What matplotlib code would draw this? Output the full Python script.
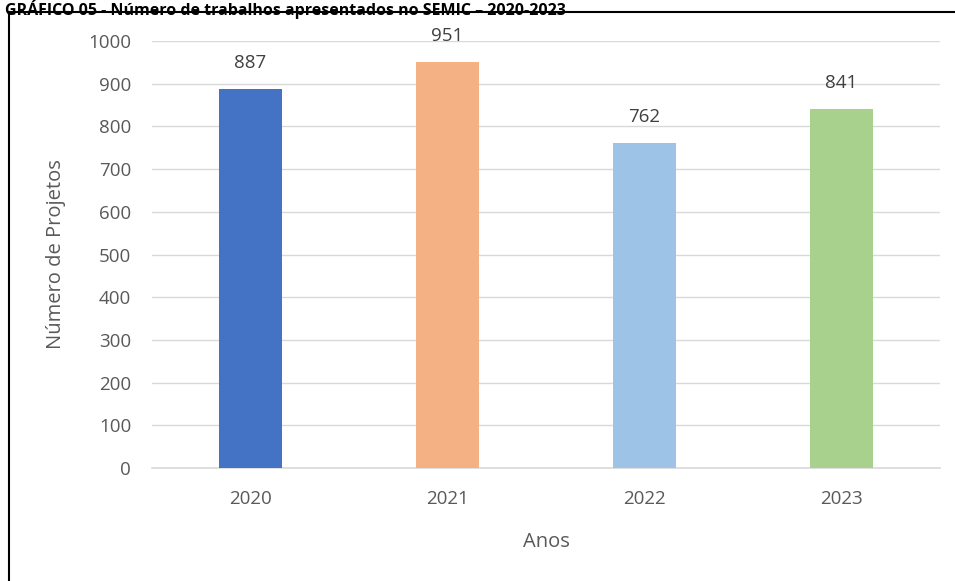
import matplotlib.pyplot as plt
from matplotlib.patches import Rectangle

anos = ['2020', '2021', '2022', '2023']
projetos = [887, 951, 762, 841]
cores = ['#4472C4', '#F4B183', '#9DC3E6', '#A9D18E']
titulo = 'GRÁFICO 05 - Número de trabalhos apresentados no SEMIC – 2020-2023'

plt.rcParams['font.family'] = ['Open Sans', 'DejaVu Sans']
cinza = '#595959'

fig = plt.figure(figsize=(9.55, 5.81), dpi=100)
ax = fig.add_axes([152 / 955, 1 - 468 / 581, 788 / 955, 427 / 581])

x = range(len(anos))
barras = ax.bar(x, projetos, width=0.315, color=cores, zorder=3)
for b, v in zip(barras, projetos):
    ax.text(b.get_x() + b.get_width() / 2, v + 40, str(v), ha='center', va='bottom',
            fontsize=13.5, color='#404040')

ax.set_xlim(-0.5, 3.5)
ax.set_ylim(0, 1000)
ax.set_yticks(range(0, 1001, 100))
ax.set_xticks(list(x))
ax.set_xticklabels(anos)
ax.tick_params(length=0, labelsize=13.5, colors=cinza, pad=16)
ax.tick_params(axis='y', pad=15)
ax.grid(axis='y', color='#D9D9D9', linewidth=1, zorder=0)
for s in ['top', 'right', 'left']:
    ax.spines[s].set_visible(False)
ax.spines['bottom'].set_color('#D9D9D9')
ax.spines['bottom'].set_linewidth(1.2)

ax.set_xlabel('Anos', fontsize=14.5, color=cinza, labelpad=17)
ax.set_ylabel('Número de Projetos', fontsize=14.5, color=cinza, labelpad=16)

# borda do gráfico (cortada à direita e embaixo)
fig.patches.append(Rectangle((9 / 955, -0.05), 1.1, 1 - 12 / 581 + 0.05,
                             transform=fig.transFigure, fill=False,
                             edgecolor='black', linewidth=1.5))

fig.text(0.005, 1.0, titulo, ha='left', va='top', fontsize=11.5,
         fontweight='bold', color='black')

fig.savefig('out.png', dpi=100)
